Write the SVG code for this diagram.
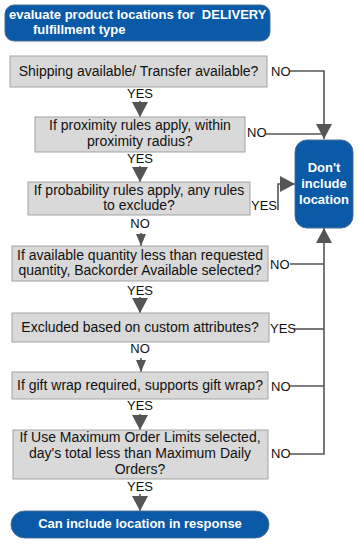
<svg xmlns="http://www.w3.org/2000/svg" width="358" height="544" viewBox="0 0 358 544">
<style>
.blue{fill:#0a5aa8;stroke:#4a6f96;stroke-width:1}
.box{fill:#d9d9d9;stroke:#a3a3a3;stroke-width:1}
.wt{font-family:"Liberation Sans",Arial,sans-serif;font-weight:bold;font-size:13px;fill:#fff}
.bt{font-family:"Liberation Sans",Arial,sans-serif;font-size:14px;fill:#111;text-anchor:middle}
.lb{font-family:"Liberation Sans",Arial,sans-serif;font-size:13px;fill:#111}
.ln{fill:none;stroke:#555;stroke-width:1.6}
</style>
<defs>
<marker id="aL" viewBox="0 0 15 16" refX="15" refY="8" markerWidth="15" markerHeight="16" markerUnits="userSpaceOnUse" orient="auto"><path d="M0,0 L15,8 L0,16 z" fill="#555"/></marker>
<marker id="aS" viewBox="0 0 12 10" refX="12" refY="5" markerWidth="12" markerHeight="10" markerUnits="userSpaceOnUse" orient="auto"><path d="M0,0 L12,5 L0,10 z" fill="#555"/></marker>
</defs>

<g id="connectors">
<path class="ln" d="M290 71 H324 V139" marker-end="url(#aL)"/>
<path class="ln" d="M266 134 H324"/>
<path class="ln" d="M278 210 V184 H295" marker-end="url(#aL)"/>
<path class="ln" d="M290 264 H324"/>
<path class="ln" d="M294 329 H324"/>
<path class="ln" d="M290 386 H324"/>
<path class="ln" d="M290 454 H324 V228" marker-end="url(#aL)"/>
<path class="ln" d="M140 101 V117" marker-end="url(#aL)"/>
<path class="ln" d="M140 166 V182" marker-end="url(#aL)"/>
<path class="ln" d="M141 233 V246" marker-end="url(#aS)"/>
<path class="ln" d="M140 297 V313" marker-end="url(#aL)"/>
<path class="ln" d="M141 358 V372" marker-end="url(#aS)"/>
<path class="ln" d="M140 414 V430" marker-end="url(#aL)"/>
<path class="ln" d="M140 494 V511" marker-end="url(#aL)"/>
<text class="lb" x="271" y="76">NO</text>
<text class="lb" x="247" y="137">NO</text>
<text class="lb" x="251" y="210">YES</text>
<text class="lb" x="270" y="269">NO</text>
<text class="lb" x="270" y="333">YES</text>
<text class="lb" x="271" y="391">NO</text>
<text class="lb" x="271" y="458">NO</text>
<text class="lb" x="140" y="98" text-anchor="middle">YES</text>
<text class="lb" x="140" y="163" text-anchor="middle">YES</text>
<text class="lb" x="140" y="228" text-anchor="middle">NO</text>
<text class="lb" x="140" y="295" text-anchor="middle">YES</text>
<text class="lb" x="140" y="353" text-anchor="middle">NO</text>
<text class="lb" x="140" y="410" text-anchor="middle">YES</text>
<text class="lb" x="140" y="491" text-anchor="middle">YES</text>
</g>

<g id="start">
<rect class="blue" x="5" y="5" width="265" height="36" rx="9"/>
<text class="wt" x="9" y="19" xml:space="preserve">evaluate product locations for  DELIVERY</text>
<text class="wt" x="33" y="34">fulfillment type</text>
</g>

<g id="q1">
<rect class="box" x="10" y="56" width="257" height="31"/>
<text class="bt" x="138.5" y="76">Shipping available/ Transfer available?</text>
</g>

<g id="q2">
<rect class="box" x="35" y="117" width="210" height="35"/>
<text class="bt" x="140" y="130">If proximity rules apply, within</text>
<text class="bt" x="140" y="146">proximity radius?</text>
</g>

<g id="q3">
<rect class="box" x="28" y="182" width="222" height="33"/>
<text class="bt" x="139" y="195">If probability rules apply, any rules</text>
<text class="bt" x="139" y="210">to exclude?</text>
</g>

<g id="q4">
<rect class="box" x="12" y="246" width="256" height="35"/>
<text class="bt" x="140" y="260">If available quantity less than requested</text>
<text class="bt" x="140" y="275">quantity, Backorder Available selected?</text>
</g>

<g id="q5">
<rect class="box" x="12" y="313" width="257" height="29"/>
<text class="bt" x="140" y="332">Excluded based on custom attributes?</text>
</g>

<g id="q6">
<rect class="box" x="12" y="372" width="256" height="27"/>
<text class="bt" x="140" y="390">If gift wrap required, supports gift wrap?</text>
</g>

<g id="q7">
<rect class="box" x="13" y="430" width="255" height="49"/>
<text class="bt" x="140" y="442">If Use Maximum Order Limits selected,</text>
<text class="bt" x="140" y="458">day's total less than Maximum Daily</text>
<text class="bt" x="140" y="474">Orders?</text>
</g>

<g id="exclude">
<rect class="blue" x="295" y="140" width="58" height="88" rx="12"/>
<text class="wt" x="324" y="172" text-anchor="middle">Don't</text>
<text class="wt" x="324" y="188" text-anchor="middle">include</text>
<text class="wt" x="324" y="204" text-anchor="middle">location</text>
</g>

<g id="include">
<rect class="blue" x="11" y="511" width="258" height="27" rx="13.5"/>
<text class="wt" x="140" y="528" text-anchor="middle">Can include location in response</text>
</g>
</svg>
